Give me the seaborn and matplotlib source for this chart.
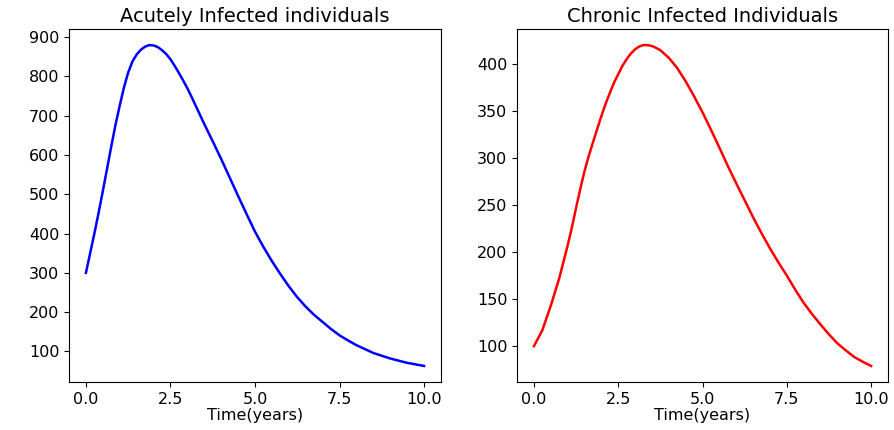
import matplotlib
matplotlib.use("Agg")
import matplotlib.pyplot as plt
import seaborn as sns
import pandas as pd

# Time (years) and acutely infected individuals
time_a = [0, 0.125, 0.25, 0.375, 0.5, 0.625, 0.75, 0.875, 1.0, 1.125, 1.25,
          1.375, 1.5, 1.625, 1.75, 1.875, 2.0, 2.125, 2.25, 2.375, 2.5, 2.625,
          2.75, 2.875, 3.0, 3.125, 3.25, 3.375, 3.5, 3.75, 4.0, 4.25, 4.5,
          4.75, 5.0, 5.25, 5.5, 5.75, 6.0, 6.25, 6.5, 6.75, 7.0, 7.25, 7.5,
          7.75, 8.0, 8.5, 9.0, 9.5, 10.0]
acute = [300, 350, 400, 453, 508, 565, 622, 677, 726, 772, 810,
         838, 856, 868, 876, 880, 879, 875, 867, 857, 844, 827,
         809, 790, 770, 748, 725, 702, 679, 635, 590, 543, 496,
         450, 405, 366, 330, 297, 266, 238, 214, 193, 175, 157, 141,
         128, 116, 96, 82, 71, 63]

# Time (years) and chronic infected individuals
time_c = [0, 0.25, 0.5, 0.75, 1.0, 1.125, 1.25, 1.375, 1.5, 1.625, 1.75,
          1.875, 2.0, 2.125, 2.25, 2.375, 2.5, 2.625, 2.75, 2.875, 3.0, 3.125,
          3.25, 3.375, 3.5, 3.625, 3.75, 3.875, 4.0, 4.25, 4.5, 4.75, 5.0,
          5.25, 5.5, 5.75, 6.0, 6.25, 6.5, 6.75, 7.0, 7.25, 7.5, 7.75, 8.0,
          8.25, 8.5, 8.75, 9.0, 9.25, 9.5, 9.75, 10.0]
chronic = [100, 117, 143, 172, 207, 226, 247, 267, 286, 302, 316.5,
           330.5, 344.5, 357.5, 369, 380, 389, 398, 405, 411, 415.5, 418.5,
           420, 420, 419, 417, 414.5, 410.5, 406.5, 395.5, 381.5, 365.5, 348.5,
           330, 311, 291.5, 273, 255, 237, 220, 204, 189, 175, 160, 146,
           134, 123, 112.5, 103, 95.5, 88.5, 83.5, 79]

titles = ["Acutely Infected individuals", "Chronic Infected Individuals"]
xlabel = "Time(years)"
xticks = [0.0, 2.5, 5.0, 7.5, 10.0]

df_a = pd.DataFrame({"t": time_a, "v": acute})
df_c = pd.DataFrame({"t": time_c, "v": chronic})

plt.rcParams["font.family"] = ["DejaVu Sans"]
fig = plt.figure(figsize=(8.95, 4.3), dpi=100)
ax1 = fig.add_axes([0.0771, 0.1116, 0.4156, 0.8209])
ax2 = fig.add_axes([0.5777, 0.1116, 0.4145, 0.8209])

sns.lineplot(data=df_a, x="t", y="v", ax=ax1, color="blue", linewidth=1.8, legend=False)
sns.lineplot(data=df_c, x="t", y="v", ax=ax2, color="red", linewidth=1.8, legend=False)

for ax, title in zip([ax1, ax2], titles):
    ax.set_title(title, fontsize=14, pad=5)
    ax.set_xlabel(xlabel, fontsize=11.5, labelpad=1)
    ax.set_ylabel("")
    ax.set_xticks(xticks)
    ax.tick_params(labelsize=11.5)

fig.savefig("out.png", dpi=100)
